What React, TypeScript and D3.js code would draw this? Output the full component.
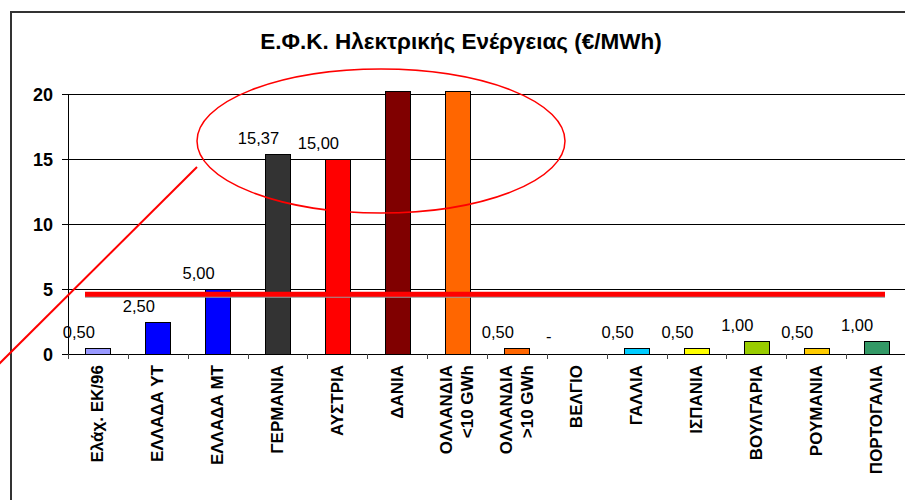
import React from 'react'
import * as d3 from 'd3'

// categories and values (ΔΑΝΙΑ / ΟΛΛΑΝΔΙΑ <10 run off the top of the scale)
const categories = [
  'Ελάχ. ΕΚ/96', 'ΕΛΛΑΔΑ ΥΤ', 'ΕΛΛΑΔΑ ΜΤ', 'ΓΕΡΜΑΝΙΑ', 'ΑΥΣΤΡΙΑ', 'ΔΑΝΙΑ',
  'ΟΛΛΑΝΔΙΑ\n<10 GWh', 'ΟΛΛΑΝΔΙΑ\n>10 GWh', 'ΒΕΛΓΙΟ', 'ΓΑΛΛΙΑ', 'ΙΣΠΑΝΙΑ',
  'ΒΟΥΛΓΑΡΙΑ', 'ΡΟΥΜΑΝΙΑ', 'ΠΟΡΤΟΓΑΛΙΑ',
]
const values = [0.5, 2.5, 5, 15.37, 15, 20.25, 20.25, 0.5, 0, 0.5, 0.5, 1, 0.5, 1]
const colors = [
  '#9999FF', '#0000FF', '#0000FF', '#333333', '#FF0000', '#800000',
  '#FF6600', '#FF6600', '#FFFFFF', '#00CCFF', '#FFFF00', '#99CC00', '#FFCC00', '#339966',
]
const yTicks = [0, 5, 10, 15, 20]
const title = 'Ε.Φ.Κ. Ηλεκτρικής Ενέργειας (€/MWh)'
const refLine = 4.6 // red marker line drawn over the chart

const W = 905, H = 500
const margin = { top: 94, left: 68, right: 906, bottom: 354 }
const font = 'Arial, "Liberation Sans", sans-serif'

const greek = d3.formatLocale({ decimal: ',', thousands: '.', grouping: [3], currency: ['', '€'] })
const fmt = greek.format('.2f')

export default function App() {
  const x = d3.scaleBand<string>().domain(categories).range([margin.left, margin.right])
    .paddingInner(0.58).paddingOuter(0.29)
  const xb = d3.scaleBand<string>().domain(categories).range([margin.left, margin.right])
  const y = d3.scaleLinear().domain([0, 20]).range([margin.bottom, margin.top])
  const cr = (v: number) => Math.round(v) + 0.5

  return (
    <svg width={W} height={H} style={{ position: 'absolute', left: 0, top: 0, background: '#fff' }}
      fontFamily={font}>
      {/* outer frame (cut by the picture edge) */}
      <rect x={11} y={12} width={920} height={520} fill="#fff" stroke="#333" strokeWidth={2} />
      <text x={461} y={49} textAnchor="middle" fontSize={22.5} fontWeight="bold">{title}</text>

      {/* grid + y axis */}
      {yTicks.map(t => (
        <g key={t}>
          <line x1={margin.left - 6} x2={t === 0 ? margin.right : W} y1={cr(y(t))} y2={cr(y(t))} stroke="#000" />
          <text x={53} y={y(t) + 6.5} textAnchor="end" fontSize={18} fontWeight="bold">{t}</text>
        </g>
      ))}
      <line x1={cr(margin.left)} x2={cr(margin.left)} y1={y(20)} y2={y(0)} stroke="#000" />

      {/* x ticks */}
      {categories.map(c => (
        <line key={c} x1={cr(xb(c)!)} x2={cr(xb(c)!)} y1={y(0)} y2={y(0) + 5} stroke="#444" />
      ))}

      {/* bars */}
      {categories.map((c, i) => values[i] > 0 && (
        <rect key={c} x={cr(x(c)!)} y={cr(y(values[i]))} width={Math.round(x.bandwidth())}
          height={cr(y(0)) - cr(y(values[i]))}
          fill={colors[i]} stroke="#000" strokeWidth={1} />
      ))}

      {/* value labels */}
      {categories.map((c, i) => {
        if (values[i] > 20) return null
        const cx = x(c)! + x.bandwidth() / 2
        const zero = values[i] === 0
        return (
          <text key={c} x={cx - (zero ? 28 : 19)} y={y(values[i]) - (zero ? 12 : 10)}
            textAnchor="middle" fontSize={16.5}>{zero ? '-' : fmt(values[i])}</text>
        )
      })}

      {/* category labels */}
      {categories.map(c => {
        const lines = c.split('\n')
        const cx = xb(c)! + xb.step() / 2
        return (
          <text key={c} transform={`translate(${cx},${365}) rotate(-90)`} textAnchor="end"
            fontSize={17} fontWeight="bold">
            {lines.map((l, k) => (
              <tspan key={k} x={0} y={5.5 + (k - (lines.length - 1) / 2) * 21}>{l}</tspan>
            ))}
          </text>
        )
      })}

      {/* red annotations */}
      <line x1={85} x2={885} y1={y(refLine) + 1.5} y2={y(refLine) + 1.5} stroke="#999" strokeWidth={4} />
      <line x1={85} x2={885} y1={y(refLine)} y2={y(refLine)} stroke="#FF0000" strokeWidth={5} />
      <ellipse cx={381} cy={141} rx={184} ry={72} fill="none" stroke="#FF0000" strokeWidth={1.5} />
      <line x1={197} y1={167} x2={-2} y2={365} stroke="#FF0000" strokeWidth={2} />
    </svg>
  )
}
